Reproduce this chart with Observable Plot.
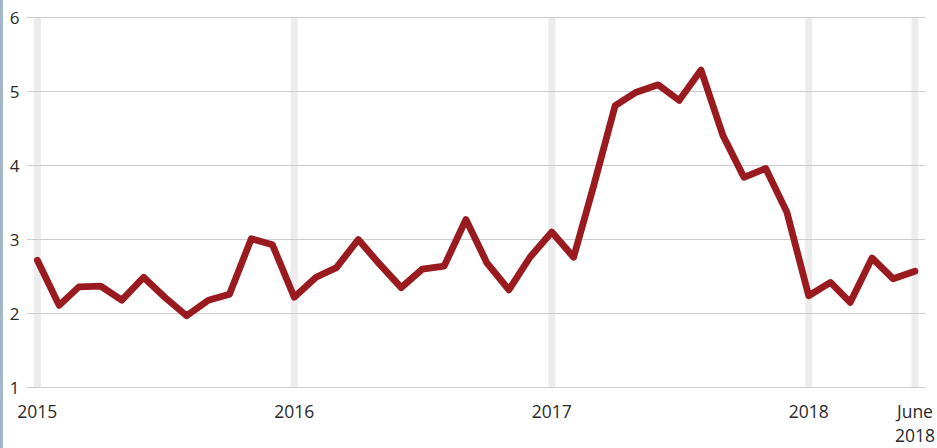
<!DOCTYPE html>
<html>
<head>
<meta charset="utf-8">
<script src="https://cdn.jsdelivr.net/npm/d3@7"></script>
<script src="https://cdn.jsdelivr.net/npm/@observablehq/plot@0.6"></script>
<style>
  html, body { margin: 0; padding: 0; background: #fff; }
  #wrap { position: relative; width: 937px; height: 448px; overflow: hidden; }
  #edge { position: absolute; left: 0; top: 0; width: 3px; height: 448px; background: #a3b6ca; }
</style>
</head>
<body>
<div id="wrap"><div id="chart"></div><div id="edge"></div></div>
<script>
// Monthly values, Jan 2015 – Jun 2018
const months = d3.timeMonths(new Date(2015, 0, 1), new Date(2018, 6, 1));
const values = [
  2.72, 2.11, 2.36, 2.37, 2.18, 2.49, 2.22, 1.97, 2.18, 2.26, 3.01, 2.93,
  2.22, 2.49, 2.62, 3.00, 2.67, 2.35, 2.60, 2.64, 3.27, 2.68, 2.32, 2.76,
  3.10, 2.76, 3.71, 4.81, 4.99, 5.09, 4.88, 5.29, 4.41, 3.84, 3.96, 3.37,
  2.24, 2.42, 2.15, 2.75, 2.47, 2.57
];
const yTicks = [1, 2, 3, 4, 5, 6];
const xTicks = [new Date(2015, 0, 1), new Date(2016, 0, 1), new Date(2017, 0, 1), new Date(2018, 0, 1), new Date(2018, 5, 1)];
const xTickLabels = ["2015", "2016", "2017", "2018", "June\n2018"];
const xDomain = [new Date(2014, 11, 18), new Date(2018, 5, 16)];

const data = months.map((d, i) => ({date: d, value: values[i]}));

const chart = Plot.plot({
  width: 937,
  height: 448,
  marginLeft: 27,
  marginRight: 12,
  marginTop: 17,
  marginBottom: 61,
  style: {fontFamily: "'Open Sans', sans-serif", background: "#fff"},
  x: {type: "time", domain: xDomain, axis: null},
  y: {domain: [1, 6], axis: null},
  marks: [
    Plot.ruleX(xTicks, {stroke: "#ececec", strokeWidth: 7}),
    Plot.ruleY(yTicks, {stroke: "#cccccc", strokeWidth: 1}),
    Plot.text(yTicks, {y: d => d, text: d => String(d), frameAnchor: "left", dx: -8, textAnchor: "end",
      fontSize: 17, fill: "#2a2a2a", dy: 1.5}),
    Plot.text(xTicks, {x: d => d, text: (d, i) => xTickLabels[i], frameAnchor: "bottom", lineAnchor: "top",
      dy: 13, fontSize: 17.5, fill: "#2a2a2a", lineHeight: 1.4}),
    Plot.line(data, {x: "date", y: "value", stroke: "#9a1b1f", strokeWidth: 6.8, strokeLinejoin: "round", strokeLinecap: "round"})
  ]
});
document.getElementById("chart").appendChild(chart);
</script>
</body>
</html>
